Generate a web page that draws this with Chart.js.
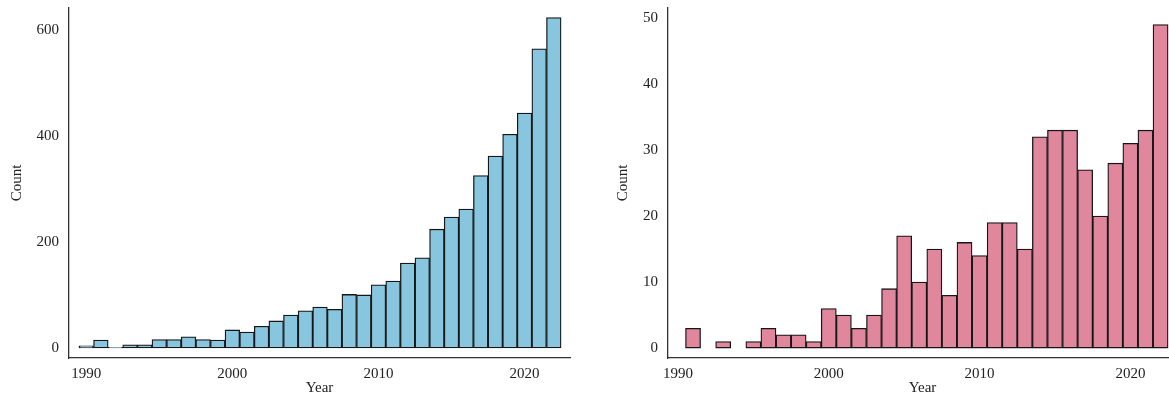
<!DOCTYPE html>
<html>
<head>
<meta charset="utf-8">
<script src="https://cdn.jsdelivr.net/npm/chart.js@4.4.1/dist/chart.umd.min.js"></script>
<style>
  html, body { margin: 0; padding: 0; background: #fff; overflow: hidden; width: 1169px; height: 407px; }
  .panel { position: absolute; top: 0; height: 407px; }
  #leftPanel { left: 0; width: 585px; }
  #rightPanel { left: 600px; width: 600px; }
</style>
</head>
<body>
<div class="panel" id="leftPanel"><canvas id="leftChart"></canvas></div>
<div class="panel" id="rightPanel"><canvas id="rightChart"></canvas></div>
<script>
// Publication years shown on both histograms
const years = [1990, 1991, 1992, 1993, 1994, 1995, 1996, 1997, 1998, 1999,
               2000, 2001, 2002, 2003, 2004, 2005, 2006, 2007, 2008, 2009,
               2010, 2011, 2012, 2013, 2014, 2015, 2016, 2017, 2018, 2019,
               2020, 2021, 2022];

// Counts per year, left panel
const countsLeft = [4, 15, 1, 6, 6, 16, 16, 21, 16, 15,
                    34, 30, 41, 51, 62, 70, 77, 73, 101, 100,
                    119, 126, 160, 170, 224, 247, 262, 325, 362, 403,
                    443, 564, 623];

// Counts per year, right panel
const countsRight = [0, 3, 0, 1, 0, 1, 3, 2, 2, 1,
                     6, 5, 3, 5, 9, 17, 10, 15, 8, 16,
                     14, 19, 19, 15, 32, 33, 33, 27, 20, 28,
                     31, 33, 49];

// Tick labels
const yearTicks = [1990, 2000, 2010, 2020];
const leftCountTicks = [0, 200, 400, 600];
const rightCountTicks = [0, 10, 20, 30, 40, 50];

const FONT = "'Liberation Serif', 'Times New Roman', serif";
const TEXT = '#222222';
const AXIS = '#333333';

// Keep the plot area exactly where the layout padding puts it
function noEdgePadding(s) {
  s.paddingTop = 0; s.paddingBottom = 0; s.paddingLeft = 0; s.paddingRight = 0;
}

function buildChart(id, counts, fill, cfg) {
  const points = years.map((y, i) => ({ x: y, y: counts[i] }));
  return new Chart(document.getElementById(id), {
    type: 'bar',
    data: {
      datasets: [{
        data: points,
        backgroundColor: fill,
        borderColor: '#161616',
        borderWidth: 1.3,
        borderSkipped: false,
        categoryPercentage: 1,
        barPercentage: 1
      }]
    },
    options: {
      responsive: false,
      animation: false,
      events: [],
      devicePixelRatio: 1,
      layout: { padding: { top: 8, right: cfg.padRight, bottom: 0, left: 0 } },
      plugins: { legend: { display: false }, tooltip: { enabled: false } },
      scales: {
        x: {
          type: 'linear',
          offset: false,
          min: cfg.xMin,
          max: cfg.xMax,
          grid: { display: false, drawTicks: false, offset: false },
          border: { display: true, color: AXIS, width: 1.3 },
          afterBuildTicks: s => { s.ticks = yearTicks.map(v => ({ value: v })); },
          afterFit: s => { s.height = 49; noEdgePadding(s); },
          ticks: {
            padding: 7,
            color: TEXT,
            font: { family: FONT, size: 15 },
            maxRotation: 0,
            autoSkip: false,
            callback: v => String(v)
          },
          title: {
            display: true,
            text: 'Year',
            color: TEXT,
            font: { family: FONT, size: 15 },
            padding: { top: 0, bottom: 10 }
          }
        },
        y: {
          type: 'linear',
          min: cfg.yMin,
          max: cfg.yMax,
          grid: { display: false, drawTicks: false },
          border: { display: true, color: AXIS, width: 1.3 },
          afterBuildTicks: s => { s.ticks = cfg.yTicks.map(v => ({ value: v })); },
          afterFit: s => { s.width = cfg.yWidth; noEdgePadding(s); },
          ticks: {
            padding: 10,
            color: TEXT,
            font: { family: FONT, size: 15 },
            autoSkip: false,
            callback: v => String(v)
          },
          title: {
            display: true,
            text: 'Count',
            color: TEXT,
            font: { family: FONT, size: 15 },
            padding: { top: cfg.titlePad, bottom: 0 }
          }
        }
      }
    }
  });
}

const lc = document.getElementById('leftChart');
lc.width = 585; lc.height = 407;
const rc = document.getElementById('rightChart');
rc.width = 600; rc.height = 407;

buildChart('leftChart', countsLeft, '#87c6de', {
  xMin: 1988.82, xMax: 2023.11,
  yMin: -18.9, yMax: 641,
  yTicks: leftCountTicks,
  yWidth: 69, padRight: 15, titlePad: 7.7
});

buildChart('rightChart', countsRight, '#e0879d', {
  xMin: 1989.34, xMax: 2023.09,
  yMin: -1.5, yMax: 51.5,
  yTicks: rightCountTicks,
  yWidth: 68, padRight: 23, titlePad: 14
});
</script>
</body>
</html>
